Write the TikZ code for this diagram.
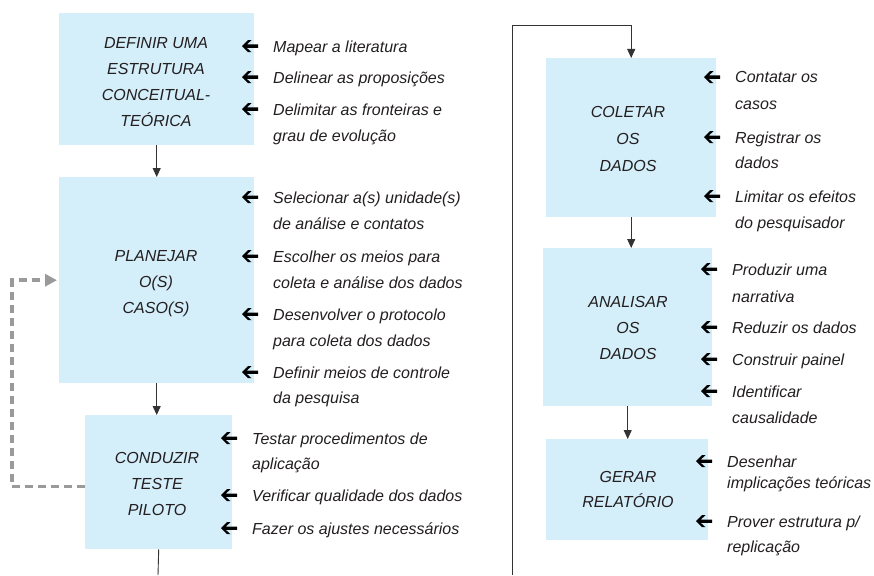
\documentclass[tikz,border=0pt]{standalone}
\usepackage{fontspec}
\setmainfont{Liberation Sans}
\usetikzlibrary{arrows.meta}
\definecolor{boxblue}{HTML}{D4EEFA}
\definecolor{ink}{HTML}{231F20}
\definecolor{linegray}{HTML}{333333}
\definecolor{dashgray}{HTML}{9A9A9A}
\begin{document}
\begin{tikzpicture}[x=1pt,y=-1pt,
  box/.style={fill=boxblue, draw=none, inner sep=0, anchor=north west},
  boxtext/.style={font=\fontsize{16}{26}\selectfont\itshape, align=center, inner sep=0, anchor=north, text=ink},
  itemtext/.style={font=\fontsize{16}{26}\selectfont\itshape, align=left, inner sep=0, anchor=north west, text=ink},
  flow/.style={draw=linegray, line width=0.9pt, -{Triangle[length=9pt,width=8pt]}},
  plainline/.style={draw=linegray, line width=0.9pt},
  itemarr/.pic={\fill[black] (0,0) -- (6,6) -- (9.5,6) -- (4.8,1.7) -- (16,1.7) -- (16,-1.7) -- (4.8,-1.7) -- (9.5,-6) -- (6,-6) -- cycle;},
  dashline/.style={draw=dashgray, line width=3.5pt, dash pattern=on 8pt off 5pt, -{Triangle[length=12pt,width=12pt]}}
]
\path[use as bounding box, fill=white] (0,0) rectangle (874,575);

% ---------- boxes ----------
\node[box, minimum width=195pt, minimum height=132pt] (def) at (59,13) {};
\node[box, minimum width=195pt, minimum height=206pt] (plan) at (59,177) {};
\node[box, minimum width=147pt, minimum height=134pt] (cond) at (85,415) {};
\node[box, minimum width=170pt, minimum height=159pt] (col) at (546,58) {};
\node[box, minimum width=169pt, minimum height=158pt] (ana) at (543,248) {};
\node[box, minimum width=162pt, minimum height=101pt] (ger) at (546,439) {};

% ---------- box texts ----------
\node[boxtext] (defT) at (156,37.5) {DEFINIR UMA\\ESTRUTURA\\CONCEITUAL-\\TEÓRICA};
\node[boxtext] (planT) at (156,250.5) {PLANEJAR\\O(S)\\CASO(S)};
\node[boxtext] (condT) at (157,452.5) {CONDUZIR\\TESTE\\PILOTO};
\node[boxtext, font=\fontsize{16}{27}\selectfont\itshape] (colT) at (628,106) {COLETAR\\OS\\DADOS};
\node[boxtext] (anaT) at (628,296.5) {ANALISAR\\OS\\DADOS};
\node[boxtext, font=\fontsize{16}{25}\selectfont\itshape] (gerT) at (628,471.5) {GERAR\\RELATÓRIO};

% ---------- item texts ----------
\node[itemtext] (m1) at (273,40.5) {Mapear a literatura};
\node[itemtext] (m2) at (273,71.5) {Delinear as proposições};
\node[itemtext] (m3) at (273,103.5) {Delimitar as fronteiras e\\grau de evolução};
\node[itemtext] (p1) at (273,191.5) {Selecionar a(s) unidade(s)\\de análise e contatos};
\node[itemtext] (p2) at (273,250.5) {Escolher os meios para\\coleta e análise dos dados};
\node[itemtext] (p3) at (273,308.5) {Desenvolver o protocolo\\para coleta dos dados};
\node[itemtext, font=\fontsize{16}{25}\selectfont\itshape] (p4) at (273,366.5) {Definir meios de controle\\da pesquisa};
\node[itemtext, font=\fontsize{16}{25}\selectfont\itshape] (c1) at (252,432.5) {Testar procedimentos de\\aplicação};
\node[itemtext] (c2) at (252,489.5) {Verificar qualidade dos dados};
\node[itemtext] (c3) at (252,522.5) {Fazer os ajustes necessários};
\node[itemtext, font=\fontsize{16}{27}\selectfont\itshape] (k1) at (735,71.5) {Contatar os\\casos};
\node[itemtext, font=\fontsize{16}{25}\selectfont\itshape] (k2) at (735,131.5) {Registrar os\\dados};
\node[itemtext] (k3) at (735,190.5) {Limitar os efeitos\\do pesquisador};
\node[itemtext, font=\fontsize{16}{27}\selectfont\itshape] (a1) at (732,263.5) {Produzir uma\\narrativa};
\node[itemtext] (a2) at (732,321.5) {Reduzir os dados};
\node[itemtext] (a3) at (732,353.5) {Construir painel};
\node[itemtext] (a4) at (732,385.5) {Identificar\\causalidade};
\node[itemtext, font=\fontsize{16}{21}\selectfont\itshape] (g1) at (727,455.5) {Desenhar\\implicações teóricas};
\node[itemtext, font=\fontsize{16}{25}\selectfont\itshape] (g2) at (727,515.5) {Prover estrutura p/\\replicação};

% ---------- item arrows ----------
\foreach \n in {m1,m2,m3,p1,p2,p3,p4,c1,c2,c3,k1,k2,k3,a1,a2,a3,a4,g1,g2}{
  \pic at ([shift={(-31pt,-5.7pt)}]\n.north west) {itemarr};
}

% ---------- flow connectors ----------
\coordinate (botL) at (158,575);
\coordinate (botR) at (512,575);
\coordinate (topY) at (0,25);
\coordinate (loopX) at (12,0);
\coordinate (dstart) at ([yshift=-4.5pt]cond.west);

\draw[flow] (def.south) -- (def.south |- plan.north);
\draw[flow] (plan.south) -- (plan.south |- cond.north);
\draw[plainline] (cond.south) -- (botL);
\draw[flow] (botR) |- (col.north |- topY) -- (col.north);
\draw[flow] (col.south) -- (col.south |- ana.north);
\draw[flow] (ana.south) -- (ana.south |- ger.north);

\draw[dashline, shorten >=2pt] (dstart) -- (loopX |- dstart) |- (plan.west);
\end{tikzpicture}
\end{document}
